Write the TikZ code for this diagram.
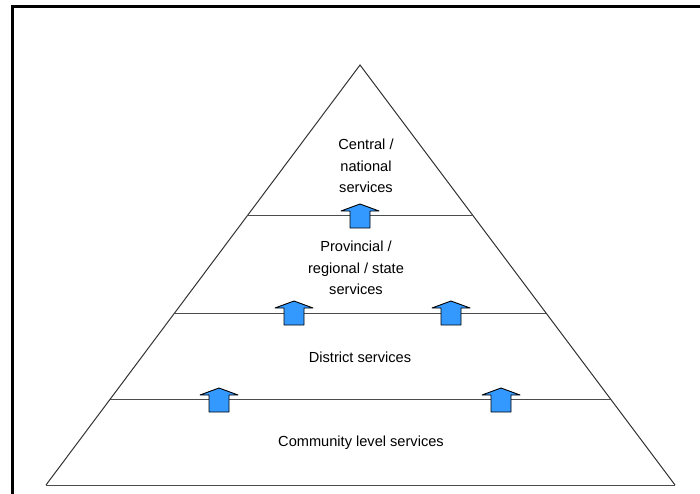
\documentclass[tikz,border=0pt]{standalone}
\usepackage{fontspec}
\setmainfont{Liberation Sans}
\usetikzlibrary{calc, positioning}

\definecolor{tierblue}{HTML}{3399FF}
\definecolor{edgegray}{HTML}{333333}

\begin{document}
\begin{tikzpicture}[
    x=1pt,
    y=-1pt,
    edge/.style={draw=edgegray, line width=1pt},
    tier/.style={draw=black!70, line width=1pt},
    label/.style={font=\fontsize{14.6}{21.5}\selectfont, align=center, inner sep=0pt},
    uparrow/.pic={
        \draw[fill=tierblue, line width=0.9pt, line join=round]
            (-19,-5) -- (0,-12) -- (19,-5) -- (10,-5) -- (10,12)
            -- (-10,12) -- (-10,-5) -- cycle;
    },
]

    \useasboundingbox (0,0) rectangle (700,494);

    % outer frame, only the top and left edges fall on the page
    \draw[line width=3pt] (12,7) rectangle (720,520);

    % pyramid
    \coordinate (apex)  at (360,65);
    \coordinate (left)  at (46,485);
    \coordinate (right) at (675,485);

    \draw[edge] (left) -- (apex) -- (right);
    \draw[tier] (left) -- (right);

    % levels
    \coordinate (t1l) at ($(apex)!0.3595!(left)$);
    \coordinate (t1r) at ($(apex)!0.3595!(right)$);
    \coordinate (t2l) at ($(apex)!0.5905!(left)$);
    \coordinate (t2r) at ($(apex)!0.5905!(right)$);
    \coordinate (t3l) at ($(apex)!0.7976!(left)$);
    \coordinate (t3r) at ($(apex)!0.7976!(right)$);

    \draw[tier] (t1l) -- (t1r);
    \draw[tier] (t2l) -- (t2r);
    \draw[tier] (t3l) -- (t3r);

    \node[label] (central)   at (366,166) {Central /\\national\\services};
    \node[label] (province)  at (356,268) {Provincial /\\regional / state\\services};
    \node[label] (district)  at (360,357) {District services};
    \node[label] (community) at (361,443) {Community level services};

    % referrals up the levels
    \pic at (360,216) {uparrow};
    \pic at (294,313) {uparrow};
    \pic at (451,313) {uparrow};
    \pic at (219,400) {uparrow};
    \pic at (501,400) {uparrow};
\end{tikzpicture}
\end{document}
